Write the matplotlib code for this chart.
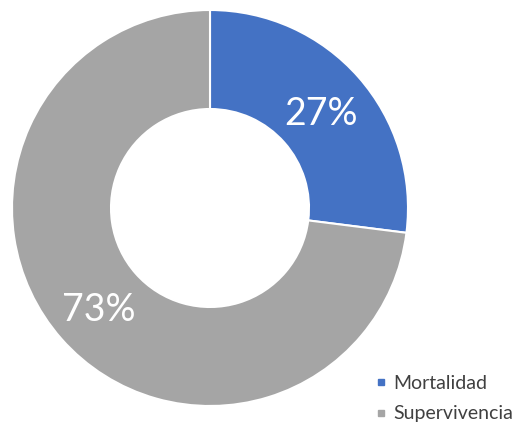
import matplotlib.pyplot as plt
from matplotlib.lines import Line2D

labels = ['Mortalidad', 'Supervivencia']
values = [27, 73]
colors = ['#4472C4', '#A5A5A5']

W, H = 515, 433
fig = plt.figure(figsize=(W / 100, H / 100), dpi=100)

# Donut axes placed in pixel units
ax = fig.add_axes([12 / W, 27 / H, 396 / W, 396 / H])
wedges, texts, autotexts = ax.pie(
    values, colors=colors, startangle=90, counterclock=False,
    radius=1, autopct='%d%%', pctdistance=0.75,
    wedgeprops=dict(width=0.5, edgecolor='white', linewidth=1.5),
    textprops=dict(color='white', fontsize=27, family='Lato'))
for t in autotexts:
    x, y = t.get_position()
    t.set_position((x, y - 0.02))
ax.set_xlim(-1, 1)
ax.set_ylim(-1, 1)
ax.set_aspect('equal')
ax.axis('off')

# Legend with small square markers
handles = [Line2D([0], [0], marker='s', linestyle='none', markersize=5,
                  markerfacecolor=c, markeredgecolor=c) for c in colors]
fig.legend(handles, labels, loc='lower left', bbox_to_anchor=(358 / W, -7 / H),
           frameon=False, handlelength=0.55, handletextpad=0.35, labelspacing=0.7,
           prop=dict(family='Lato', size=14), labelcolor='#404040')

fig.savefig('out.png', dpi=100)
